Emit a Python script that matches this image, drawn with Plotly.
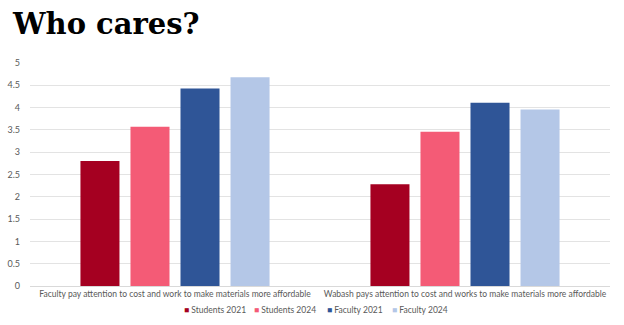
import plotly.graph_objects as go

categories = ["Faculty pay attention to cost and work to make materials more affordable",
              "Wabash pays attention to cost and works to make materials more affordable"]
series_names = ["Students 2021", "Students 2024", "Faculty 2021", "Faculty 2024"]
students_2021 = [2.80, 2.28]
students_2024 = [3.57, 3.46]
faculty_2021 = [4.43, 4.11]
faculty_2024 = [4.68, 3.96]
colors = ["#A50021", "#F45B76", "#2F5597", "#B4C7E7"]
y_ticks = [0, 0.5, 1, 1.5, 2, 2.5, 3, 3.5, 4, 4.5, 5]

fig = go.Figure()
for name, vals, c in zip(series_names, [students_2021, students_2024, faculty_2021, faculty_2024], colors):
    fig.add_trace(go.Bar(name=name, x=categories, y=vals, marker=dict(color=c, line=dict(width=0)),
                         showlegend=False))

# custom compact legend (Excel style: small square + label)
legend_x = [0.262, 0.383, 0.508, 0.620]
annotations = [dict(text="<b>Who cares?</b>", xref="paper", yref="paper", x=-0.035, y=1.0,
                    yshift=58, xanchor="left", yanchor="top", showarrow=False,
                    font=dict(family="DejaVu Serif", size=29, color="black"))]
for name, c, lx in zip(series_names, colors, legend_x):
    annotations.append(dict(text=f'<span style="color:{c}">■</span> {name}', xref="paper", yref="paper",
                            x=lx, y=-0.108, xanchor="left", yanchor="middle", showarrow=False,
                            font=dict(family="Lato, sans-serif", size=8.5, color="#595959")))

fig.update_layout(
    width=624, height=325,
    margin=dict(l=30, r=14, t=63, b=39, autoexpand=False),
    paper_bgcolor="white", plot_bgcolor="white",
    barmode="group", bargap=0.31, bargroupgap=0.22,
    font=dict(family="Lato, sans-serif", color="#595959", size=9),
    showlegend=False,
    annotations=annotations,
)
fig.update_yaxes(range=[0, 5], tickvals=y_ticks, ticktext=[f"{v:g}" for v in y_ticks],
                 showgrid=True, gridcolor="#E3E3E3", gridwidth=1, zeroline=False,
                 showline=False, ticks="", ticklabelstandoff=9, automargin=False)
fig.update_xaxes(showline=True, linecolor="#D9D9D9", linewidth=1, ticks="", tickangle=0,
                 tickfont=dict(size=8.5), automargin=False)

fig.write_html("out.html")
